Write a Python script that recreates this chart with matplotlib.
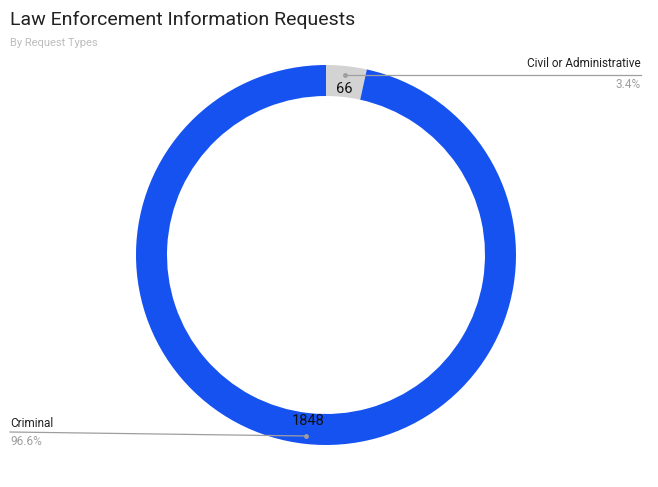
import matplotlib
matplotlib.use("Agg")
import matplotlib.pyplot as plt
import numpy as np

categories = ["Civil or Administrative", "Criminal"]
values = [66, 1848]
colors = ["#D3D3D3", "#1652F0"]

plt.rcParams['font.family'] = ['Roboto', 'DejaVu Sans']

W, H = 658, 487
fig = plt.figure(figsize=(W/100, H/100), dpi=100)

cx, cy = 326, 255
R = 190
width = 31

# pie in a y-up axes using pixel coords
ax2 = fig.add_axes([0, 0, 1, 1])
ax2.axis('off')
wedges, _ = ax2.pie(values, colors=colors, startangle=90, counterclock=False,
                    radius=R, center=(cx, H - cy),
                    wedgeprops=dict(width=width, linewidth=0))
ax2.set_xlim(0, W)
ax2.set_ylim(0, H)
ax2.set_aspect('auto')

# overlay axes (top-down pixel coords) for leader lines
ax = fig.add_axes([0, 0, 1, 1])
ax.set_xlim(0, W)
ax.set_ylim(H, 0)
ax.axis('off')
ax.patch.set_alpha(0)

total = sum(values)
for w, v in zip(wedges, values):
    ang = np.deg2rad((w.theta1 + w.theta2) / 2)
    r = 167
    x = cx + r * np.cos(ang)
    y = cy - r * np.sin(ang)
    ax.text(x, y, f"{v}", ha='center', va='center', fontsize=10.5, color='#111111', zorder=5)

# titles
fig.text(10/W, 1 - 20/H, "Law Enforcement Information Requests", fontsize=14,
         color='#212121', ha='left', va='center')
fig.text(10/W, 1 - 43/H, "By Request Types", fontsize=8, color='#BDBDBD',
         ha='left', va='center')

line_col = '#9E9E9E'
# Civil
ax.plot([345, 641], [75, 75], color=line_col, lw=0.9)
ax.plot([345], [75], 'o', color=line_col, ms=2.5)
ax.text(641, 70, categories[0], ha='right', va='bottom', fontsize=8.5, color='#212121')
ax.text(641, 78, f"{values[0]/total*100:.1f}%", ha='right', va='top', fontsize=8.5, color='#9E9E9E')
# Criminal
ax.plot([10, 306], [432, 436], color=line_col, lw=0.9)
ax.plot([306], [436], 'o', color=line_col, ms=2.5)
ax.text(10, 430, categories[1], ha='left', va='bottom', fontsize=8.5, color='#212121')
ax.text(10, 435, f"{values[1]/total*100:.1f}%", ha='left', va='top', fontsize=8.5, color='#9E9E9E')

fig.savefig("out.png", dpi=100, facecolor='white')
